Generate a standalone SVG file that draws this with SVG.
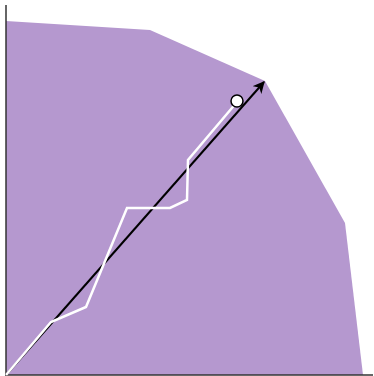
<svg xmlns="http://www.w3.org/2000/svg" width="374" height="376" viewBox="0 0 374 376">
<defs>
<marker id="ah" viewBox="0 0 10 10" refX="9" refY="5" markerWidth="12" markerHeight="12" orient="auto" markerUnits="userSpaceOnUse">
<path d="M0,0 L10,5 L0,10 L3,5 Z" fill="#000"/>
</marker>
</defs>
<style>
.region{fill:#b598cf;stroke:none}
.axis{stroke:#333;stroke-width:1.5;fill:none}
.walk{stroke:#fff;stroke-width:2.5;fill:none;stroke-linejoin:miter}
.vec{stroke:#000;stroke-width:2;fill:none}
</style>
<g id="region"><polygon class="region" points="6,21 150,30 265,81 345,223 363,375 6,375"/></g>
<g id="axes">
<line class="axis" x1="6" y1="5" x2="6" y2="375"/>
<line class="axis" x1="5" y1="375" x2="373" y2="375"/>
</g>
<g id="connectors">
<line class="vec" x1="6" y1="375" x2="264" y2="82" marker-end="url(#ah)"/>
<polyline class="walk" points="6,375 51,322 86,307 127,208 170,208 187,200 188,160 237,102"/>
</g>
<g id="endpoint"><circle cx="237" cy="101" r="6" fill="#fff" stroke="#000" stroke-width="1.5"/></g>
</svg>
